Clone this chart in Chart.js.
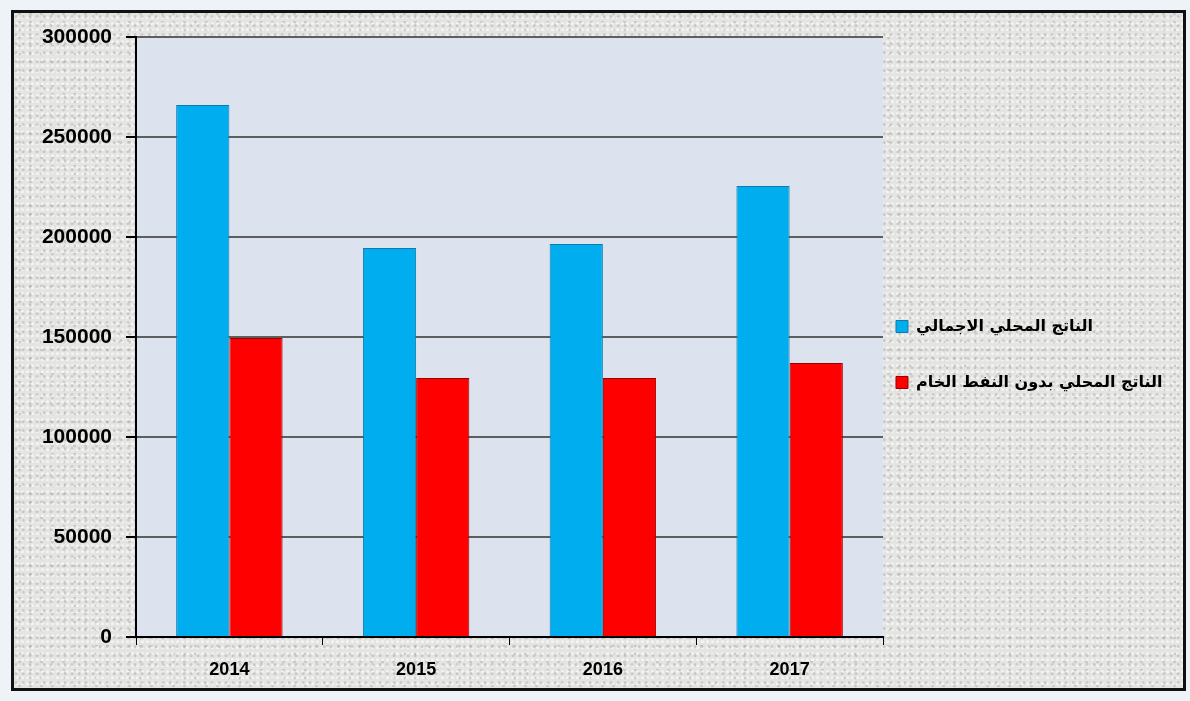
<!DOCTYPE html>
<html>
<head>
<meta charset="utf-8">
<script src="https://cdn.jsdelivr.net/npm/chart.js@4"></script>
<style>
  html, body { margin: 0; padding: 0; background: #eef3f8; }
  #frame {
    position: absolute; left: 11px; top: 10px; width: 1169px; height: 675px;
    border: 3px solid #111;
    background-color: #e4e4e2;
    background-image:
      radial-gradient(circle at 30% 40%, rgba(150,150,150,0.35) 1px, transparent 2px),
      radial-gradient(circle at 70% 80%, rgba(255,255,255,0.6) 1px, transparent 2px),
      radial-gradient(circle at 50% 10%, rgba(120,120,120,0.25) 1px, transparent 2px);
    background-size: 7px 9px, 5px 6px, 11px 8px;
  }
  canvas { display: block; }
</style>
</head>
<body>
<div id="frame"><canvas id="chart" width="1169" height="675"></canvas></div>
<script>
// =========================
// DATA
// =========================
const years = ["2014", "2015", "2016", "2017"];
const gdpTotal = [266000, 194500, 196500, 225500];
const gdpNonOil = [149500, 129500, 129500, 137000];
const seriesNames = ["الناتج المحلي الاجمالي", "الناتج المحلي بدون النفط الخام"];

// plot area fill
const plotBg = {
    id: "plotBg",
    beforeDraw(chart) {
        const { ctx, chartArea: a } = chart;
        ctx.save();
        ctx.fillStyle = "#dce3ee";
        ctx.fillRect(a.left, a.top, a.right - a.left, a.bottom - a.top);
        ctx.restore();
    }
};

// legend sits close to the plot, like the original; widen its box so the arabic text isn't cut
const legendShift = {
    id: "legendShift",
    afterLayout(chart) {
        const lg = chart.legend;
        lg.left -= 27;
        lg.right = chart.width;
        lg.width = lg.right - lg.left;
        lg.top -= 8;
        lg.bottom -= 8;
    }
};

new Chart(document.getElementById("chart"), {
    type: "bar",
    data: {
        labels: years,
        datasets: [
            {
                label: seriesNames[0],
                data: gdpTotal,
                backgroundColor: "#00aeef",
                borderColor: "#1478a8",
                borderWidth: 1
            },
            {
                label: seriesNames[1],
                data: gdpNonOil,
                backgroundColor: "#ff0000",
                borderColor: "#9b0000",
                borderWidth: 1
            }
        ]
    },
    options: {
        responsive: false,
        animation: false,
        layout: { padding: { top: 24, right: 13, bottom: 0, left: 8 } },
        datasets: { bar: { categoryPercentage: 0.57, barPercentage: 1 } },
        plugins: {
            tooltip: { enabled: false },
            legend: {
                position: "right",
                labels: {
                    color: "#000",
                    font: { family: "DejaVu Sans", size: 16, weight: "bold" },
                    boxWidth: 12,
                    boxHeight: 12,
                    padding: 40
                }
            }
        },
        scales: {
            x: {
                afterFit: s => { s.height = 51; },
                grid: {
                    offset: true,
                    drawOnChartArea: false,
                    drawTicks: true,
                    tickLength: 8,
                    tickColor: "#000"
                },
                border: { color: "#000", width: 2 },
                ticks: {
                    color: "#000",
                    padding: 14,
                    font: { family: "Liberation Sans", size: 18, weight: "bold" }
                }
            },
            y: {
                min: 0,
                max: 300000,
                afterFit: s => { s.width = 114; s.paddingTop = 0; },
                grid: {
                    color: "#5e5e5e",
                    lineWidth: 2,
                    tickColor: "#000",
                    tickLength: 10
                },
                border: { color: "#000", width: 2 },
                ticks: {
                    stepSize: 50000,
                    color: "#000",
                    padding: 14,
                    callback: v => String(v),
                    font: { family: "Liberation Sans", size: 21, weight: "bold" }
                }
            }
        }
    },
    plugins: [plotBg, legendShift]
});
</script>
</body>
</html>
